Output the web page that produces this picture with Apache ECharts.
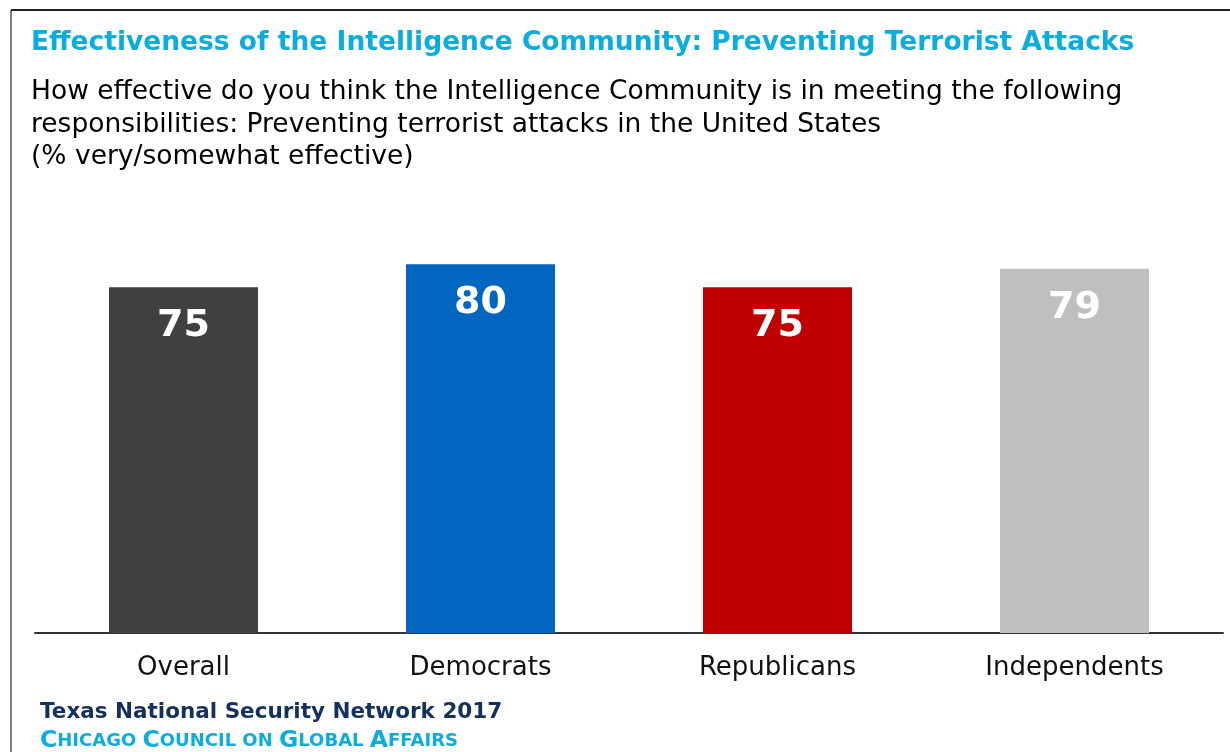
<!DOCTYPE html>
<html>
<head>
<meta charset="UTF-8" />
<title>Effectiveness of the Intelligence Community</title>
<style>
  html, body { margin: 0; padding: 0; background: #fff; }
  #chart { width: 1230px; height: 752px; }
</style>
</head>
<body>
<div id="chart"></div>
<script src="https://cdn.jsdelivr.net/npm/echarts@6/dist/echarts.min.js"></script>
<script>
const categories = ['Overall', 'Democrats', 'Republicans', 'Independents'];
const values = [75, 80, 75, 79];
const barColors = ['#404040', '#0066BF', '#C00000', '#BFBFBF'];

const font = '"DejaVu Sans", sans-serif';

const chart = echarts.init(document.getElementById('chart'));
chart.setOption({
  backgroundColor: '#fff',
  animation: false,
  title: [{
    text: 'Effectiveness of the Intelligence Community: Preventing Terrorist Attacks',
    left: 26, top: 25,
    textStyle: { color: '#0BADDB', fontSize: 26.5, fontWeight: 'bold', fontFamily: font }
  }, {
    text: 'How effective do you think the Intelligence Community is in meeting the following\nresponsibilities: Preventing terrorist attacks in the United States\n(% very/somewhat effective)',
    left: 26, top: 71,
    textStyle: { color: '#000', fontSize: 26.5, fontWeight: 'normal', lineHeight: 32.5, fontFamily: font }
  }, {
    text: 'Texas National Security Network 2017',
    left: 35, top: 696,
    textStyle: { color: '#14305C', fontSize: 21.5, fontWeight: 'bold', fontFamily: font }
  }, {
    text: '{b|C}{s|HICAGO }{b|C}{s|OUNCIL ON }{b|G}{s|LOBAL }{b|A}{s|FFAIRS}',
    left: 35, top: 724,
    textStyle: {
      rich: {
        b: { color: '#0BADDB', fontSize: 23.5, fontWeight: 'bold', fontFamily: font },
        s: { color: '#0BADDB', fontSize: 18, fontWeight: 'bold', fontFamily: font }
      }
    }
  }],
  graphic: [
    { type: 'line', shape: { x1: 11, y1: 10, x2: 11, y2: 752 }, style: { stroke: '#7f7f7f', lineWidth: 2 } },
    { type: 'line', shape: { x1: 11, y1: 10, x2: 1230, y2: 10 }, style: { stroke: '#222', lineWidth: 2 } }
  ],
  grid: { left: 35, right: 7, top: 172, bottom: 119 },
  xAxis: {
    type: 'category',
    data: categories,
    axisLine: { lineStyle: { color: '#333', width: 2 } },
    axisTick: { show: false },
    axisLabel: { color: '#111', fontSize: 26, margin: 22, fontFamily: font }
  },
  yAxis: {
    type: 'value', min: 0, max: 100, show: false
  },
  series: [{
    type: 'bar',
    barWidth: 149,
    data: values.map((v, i) => ({ value: v, itemStyle: { color: barColors[i] } })),
    label: {
      show: true,
      position: 'insideTop',
      distance: 20,
      color: '#fff',
      fontSize: 38,
      fontWeight: 'bold',
      fontFamily: font
    }
  }]
});
</script>
</body>
</html>
